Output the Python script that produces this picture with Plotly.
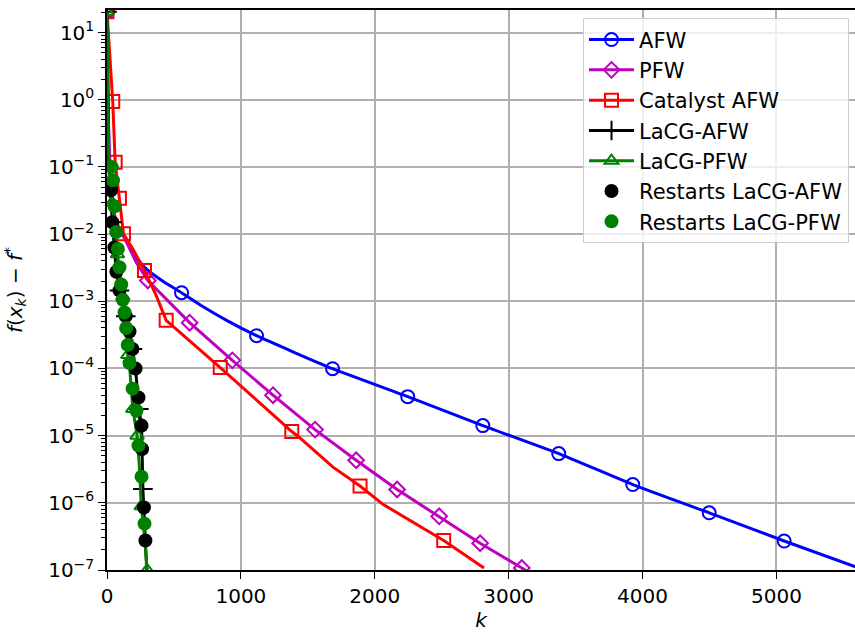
import plotly.graph_objects as go

# ---------------- data ----------------
afw_k = [0, 5, 15, 35, 56, 90, 131, 200, 295, 415, 557, 700, 900, 1117, 1685, 2246, 2807, 3374, 3927, 4498, 5058, 5600]
afw_f = [20.4, 1.6, 0.2, 0.045, 0.018, 0.011, 9.1e-3, 5.0e-3, 3.0e-3, 2.0e-3, 1.34e-3, 8.7e-4, 5.1e-4, 3.07e-4, 9.9e-5, 3.8e-5, 1.41e-5, 5.4e-6, 1.87e-6, 7.1e-7, 2.7e-7, 1.1e-7]
afw_mk = [0, 557, 1117, 1685, 2246, 2807, 3374, 3927, 4498, 5058]
afw_mf = [20.4, 1.34e-3, 3.07e-4, 9.9e-5, 3.8e-5, 1.41e-5, 5.4e-6, 1.87e-6, 7.1e-7, 2.7e-7]

pfw_k = [0, 5, 15, 35, 60, 100, 131, 218, 305, 617, 936, 1240, 1554, 1861, 2167, 2481, 2787, 3098, 3130]
pfw_f = [20.4, 1.6, 0.2, 0.04, 0.018, 0.0107, 8.7e-3, 3.8e-3, 2.04e-3, 4.8e-4, 1.32e-4, 4.0e-5, 1.23e-5, 4.3e-6, 1.58e-6, 6.3e-7, 2.5e-7, 1.07e-7, 9.8e-8]
pfw_mk = [0, 305, 617, 936, 1240, 1554, 1861, 2167, 2481, 2787, 3098]
pfw_mf = [20.4, 2.04e-3, 4.8e-4, 1.32e-4, 4.0e-5, 1.23e-5, 4.3e-6, 1.58e-6, 6.3e-7, 2.5e-7, 1.07e-7]

cat_k = [0, 43, 61, 93, 123, 193, 280, 367, 442, 641, 846, 1380, 1439, 1688, 1890, 2061, 2515, 2816]
cat_f = [20.4, 0.94, 0.117, 0.034, 0.0101, 6.0e-3, 2.87e-3, 1.22e-3, 5.2e-4, 2.34e-4, 1.03e-4, 1.15e-5, 9.3e-6, 3.4e-6, 1.78e-6, 9.5e-7, 2.75e-7, 1.07e-7]
cat_mk = [0, 43, 61, 93, 123, 280, 442, 846, 1380, 1890, 2515]
cat_mf = [20.4, 0.94, 0.117, 0.034, 0.0101, 2.87e-3, 5.2e-4, 1.03e-4, 1.15e-5, 1.78e-6, 2.75e-7]

lafw_k = [0, 4, 12, 25, 39, 55, 70, 93, 140, 168, 190, 213, 238, 258, 268, 280, 290, 298]
lafw_f = [20.4, 1.0, 0.126, 0.04, 0.015, 6.3e-3, 2.75e-3, 1.45e-3, 6.0e-4, 3.55e-4, 1.95e-4, 1.0e-4, 2.5e-5, 1.41e-5, 1.6e-6, 5.0e-7, 2.0e-7, 8.9e-8]
lafw_mk = [0, 39, 93, 140, 190, 238, 268]
lafw_mf = [20.4, 0.015, 1.45e-3, 6.0e-4, 1.95e-4, 2.5e-5, 1.6e-6]

lpfw_k = [0, 4, 12, 22, 38, 56, 78, 100, 118, 143, 155, 168, 193, 225, 240, 256, 280, 300]
lpfw_f = [20.4, 1.0, 0.158, 0.063, 0.0295, 0.0141, 5.0e-3, 2.24e-3, 1.17e-3, 4.0e-4, 1.58e-4, 1.12e-4, 2.5e-5, 1.0e-5, 4.0e-6, 8.9e-7, 3.2e-7, 1.0e-7]
lpfw_mk = [0, 38, 78, 118, 155, 193, 225, 256, 300]
lpfw_mf = [20.4, 0.0295, 5.0e-3, 1.17e-3, 1.58e-4, 2.5e-5, 1.0e-5, 8.9e-7, 1.0e-7]

rs_afw_k = [30, 39, 55, 70, 93, 140, 168, 190, 213, 235, 258, 262, 276, 287]
rs_afw_f = [0.045, 0.015, 6.3e-3, 2.75e-3, 1.45e-3, 6.0e-4, 3.55e-4, 1.95e-4, 1.0e-4, 3.7e-5, 1.41e-5, 6.3e-6, 8.5e-7, 2.75e-7]

rs_pfw_k = [35, 45, 56, 69, 81, 93, 106, 118, 131, 143, 155, 168, 191, 220, 235, 258, 280]
rs_pfw_f = [0.1, 0.063, 0.026, 0.0107, 6.0e-3, 3.2e-3, 1.78e-3, 1.05e-3, 6.8e-4, 4.0e-4, 2.24e-4, 1.2e-4, 5.0e-5, 2.34e-5, 7.1e-6, 2.45e-6, 4.9e-7]

x_ticks = [0, 1000, 2000, 3000, 4000, 5000]
y_exps = [-7, -6, -5, -4, -3, -2, -1, 0, 1]

# ---------------- figure ----------------
FONT = "DejaVu Sans"
fig = go.Figure()

series = [
    ("AFW", "#0000ff", "circle-open", 13, afw_k, afw_f, afw_mk, afw_mf, "spline"),
    ("PFW", "#bf00bf", "diamond-open", 12, pfw_k, pfw_f, pfw_mk, pfw_mf, "linear"),
    ("Catalyst AFW", "#ff0000", "square-open", 13, cat_k, cat_f, cat_mk, cat_mf, "linear"),
    ("LaCG-AFW", "#000000", "cross-thin-open", 14, lafw_k, lafw_f, lafw_mk, lafw_mf, "linear"),
    ("LaCG-PFW", "#008000", "triangle-up-open", 12, lpfw_k, lpfw_f, lpfw_mk, lpfw_mf, "linear"),
]

LW = 3
for i, (name, col, sym, sz, k, f, mk, mf, shp) in enumerate(series):
    ln = dict(color=col, width=LW, shape=shp)
    if shp == "spline":
        ln["smoothing"] = 0.5
    fig.add_trace(go.Scatter(x=k, y=f, mode="lines", line=ln,
                             showlegend=False, hoverinfo="skip"))
    fig.add_trace(go.Scatter(x=mk, y=mf, mode="markers",
                             marker=dict(symbol=sym, size=sz, color=col, line=dict(color=col, width=2)),
                             showlegend=False, hoverinfo="skip"))
    # legend entry
    fig.add_trace(go.Scatter(x=[None], y=[None], mode="lines+markers", name=name,
                             legendgroup="g%d" % i,
                             line=dict(color=col, width=LW),
                             marker=dict(symbol=sym, size=sz, color=col, line=dict(color=col, width=2))))

fig.add_trace(go.Scatter(x=rs_afw_k, y=rs_afw_f, mode="markers", name="Restarts LaCG-AFW",
                         legendgroup="g5", marker=dict(symbol="circle", size=14, color="#000000")))
fig.add_trace(go.Scatter(x=rs_pfw_k, y=rs_pfw_f, mode="markers", name="Restarts LaCG-PFW",
                         legendgroup="g6", marker=dict(symbol="circle", size=14, color="#008000")))

y_tickvals = [10.0 ** e for e in y_exps]
y_ticktext = ["10<sup>%s</sup>" % (str(e).replace("-", "\u2212")) for e in y_exps]
minor_vals = [m * 10.0 ** e for e in range(-7, 2) for m in range(2, 10)]

fig.update_layout(
    width=855, height=632,
    margin=dict(l=107, r=0, t=10, b=62),
    paper_bgcolor="white", plot_bgcolor="white",
    font=dict(family=FONT, size=20, color="black"),
    showlegend=True,
    legend=dict(x=0.992, y=0.985, xanchor="right", yanchor="top",
                bgcolor="rgba(255,255,255,0.8)", bordercolor="#cccccc", borderwidth=1,
                font=dict(family=FONT, size=21), traceorder="grouped", tracegroupgap=0,
                itemwidth=45),
    xaxis=dict(range=[0, 5587], tickvals=x_ticks, ticks="outside", ticklen=7, tickwidth=1.2,
               tickcolor="black", showline=True, linecolor="black", linewidth=1.5, mirror=True,
               showgrid=True, gridcolor="#b0b0b0", gridwidth=1.5, zeroline=False,
               title=dict(text="<i>k</i>", standoff=6, font=dict(size=20))),
    yaxis=dict(type="log", range=[-7, 1.335], tickvals=y_tickvals, ticktext=y_ticktext,
               ticks="outside", ticklen=7, tickwidth=1.2, tickcolor="black",
               showline=True, linecolor="black", linewidth=1.5, mirror=False,
               showgrid=True, gridcolor="#b0b0b0", gridwidth=1.5, zeroline=False,
               minor=dict(tickmode="array", tickvals=minor_vals, ticks="outside", ticklen=4,
                          tickwidth=1, tickcolor="black", showgrid=False),
               title=dict(text="<i>f</i>(<i>x</i><sub><i>k</i></sub>) \u2212 <i>f</i><sup>*</sup>",
                          standoff=20, font=dict(size=20))),
)

fig.write_html("out.html")
